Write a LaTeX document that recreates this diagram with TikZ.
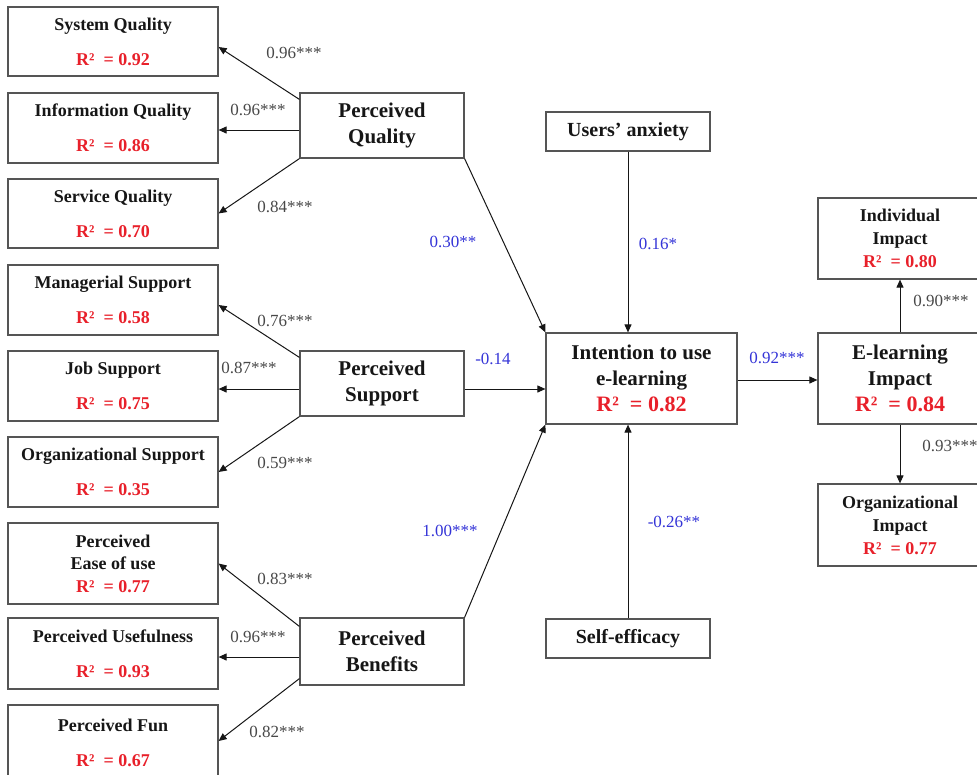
\documentclass[tikz,border=0pt]{standalone}
\usepackage{fontspec}
\setmainfont{Liberation Serif}
\usetikzlibrary{arrows.meta}

\definecolor{rsqred}{RGB}{232,32,42}
\definecolor{coefgray}{RGB}{72,72,72}
\definecolor{pathblue}{RGB}{52,52,215}
\definecolor{framegray}{RGB}{85,85,85}
\definecolor{inkdark}{RGB}{22,22,22}

% red R-squared value
\newcommand\rtwo[1]{{\color{rsqred}R²~~= #1}}

\tikzset{
  box/.style={draw=framegray, line width=1.2pt, rectangle, inner sep=0pt,
              align=center, text=inkdark},
  lbox/.style={box, minimum width=210pt, font=\bfseries\fontsize{18}{35}\selectfont},
  mbox/.style={box, minimum width=164pt, font=\bfseries\fontsize{21}{26.5}\selectfont},
  rbox/.style={box, minimum width=164pt, font=\bfseries\fontsize{18}{23}\selectfont},
  conn/.style={draw=inkdark, line width=1pt, -{Triangle[length=8pt,width=7pt]}},
  coeflbl/.style={text=coefgray, inner sep=0pt, font=\fontsize{17}{17}\selectfont},
  pathlbl/.style={text=pathblue, inner sep=0pt, font=\fontsize{17}{17}\selectfont},
}

\begin{document}
\begin{tikzpicture}[x=1pt,y=-1pt]
\useasboundingbox (0,0) rectangle (977,774);
\clip (0,0) rectangle (977,774);

% indicator boxes on the left
\node[lbox, minimum height=69pt] (sq)  at (113,41.5)  {System Quality\\\rtwo{0.92}};
\node[lbox, minimum height=70pt] (iq)  at (113,128)   {Information Quality\\\rtwo{0.86}};
\node[lbox, minimum height=69pt] (svq) at (113,213.5) {Service Quality\\\rtwo{0.70}};
\node[lbox, minimum height=70pt] (ms)  at (113,300)   {Managerial Support\\\rtwo{0.58}};
\node[lbox, minimum height=70pt] (js)  at (113,386)   {Job Support\\\rtwo{0.75}};
\node[lbox, minimum height=70pt] (os)  at (113,472)   {Organizational Support\\\rtwo{0.35}};
\node[lbox, minimum height=81pt, font=\bfseries\fontsize{18}{22.5}\selectfont]
     (peou) at (113,563.5) {Perceived\\Ease of use\\\rtwo{0.77}};
\node[lbox, minimum height=71pt] (pu)  at (113,653.5) {Perceived Usefulness\\\rtwo{0.93}};
\node[lbox, minimum height=76pt] (fun) at (113,743)   {Perceived Fun\\\rtwo{0.67}};

% second-order constructs
\node[mbox, minimum height=65pt] (pq) at (382,125.5) {Perceived\\Quality};
\node[mbox, minimum height=65pt] (ps) at (382,383.5) {Perceived\\Support};
\node[mbox, minimum height=67pt] (pb) at (382,651.5) {Perceived\\Benefits};

% moderators and intention
\node[box, minimum width=164pt, minimum height=39pt, font=\bfseries\fontsize{20}{24}\selectfont]
     (ua) at (628,131.5) {Users’ anxiety};
\node[box, minimum width=164pt, minimum height=39pt, font=\bfseries\fontsize{20}{24}\selectfont]
     (se) at (628,638.5) {Self-efficacy};
\node[box, minimum width=191pt, minimum height=91pt, font=\bfseries\fontsize{21}{26}\selectfont]
     (int) at (641.5,378.5) {Intention to use\\e-learning\\{\fontsize{22}{26}\selectfont\rtwo{0.82}}};

% impact constructs
\node[rbox, minimum height=81pt] (ii) at (900,238.5) {Individual\\Impact\\\rtwo{0.80}};
\node[box, minimum width=164pt, minimum height=91pt, font=\bfseries\fontsize{21}{26}\selectfont]
     (ei) at (900,378.5) {E-learning\\Impact\\{\fontsize{22}{26}\selectfont\rtwo{0.84}}};
\node[rbox, minimum height=82pt] (oi) at (900,525) {Organizational\\Impact\\\rtwo{0.77}};

% loadings of Perceived Quality
\draw[conn] ([yshift=-7pt]pq.north west) -- ([yshift=-5.5pt]sq.east);
\draw[conn] ([yshift=-4.5pt]pq.west) -- ([yshift=-2pt]iq.east);
\draw[conn] (pq.south west) -- (svq.east);
% loadings of Perceived Support
\draw[conn] ([yshift=-7pt]ps.north west) -- ([yshift=-5pt]ms.east);
\draw[conn] ([yshift=-5.5pt]ps.west) -- ([yshift=-3pt]js.east);
\draw[conn] (ps.south west) -- (os.east);
% loadings of Perceived Benefits
\draw[conn] ([yshift=-9pt]pb.north west) -- (peou.east);
\draw[conn] ([yshift=-5.5pt]pb.west) -- ([yshift=-3.5pt]pu.east);
\draw[conn] ([yshift=7pt]pb.south west) -- ([yshift=2pt]fun.east);

% structural paths
\draw[conn] (pq.south east) -- (int.north west);
\draw[conn] ([yshift=-5.5pt]ps.east) -- ([yshift=-10.5pt]int.west);
\draw[conn] (pb.north east) -- (int.south west);
\draw[conn] (ua.south) -- (ua.south |- int.north);
\draw[conn] (se.north) -- (se.north |- int.south);
\draw[conn] ([yshift=-1.5pt]int.east) -- ([yshift=-1.5pt]ei.west);
\draw[conn] (ei.north) -- (ii.south);
\draw[conn] (ei.south) -- (oi.north);

% loadings
\node[coeflbl] (lsq)   at (294,53)  {0.96***};
\node[coeflbl] (liq)   at (258,110) {0.96***};
\node[coeflbl] (lsvq)  at (285,207) {0.84***};
\node[coeflbl] (lms)   at (285,321) {0.76***};
\node[coeflbl] (ljs)   at (249,368) {0.87***};
\node[coeflbl] (los)   at (285,463) {0.59***};
\node[coeflbl] (lpeou) at (285,579) {0.83***};
\node[coeflbl] (lpu)   at (258,637) {0.96***};
\node[coeflbl] (lfun)  at (277,732) {0.82***};
\node[coeflbl] (lii)   at (941,301) {0.90***};
\node[coeflbl] (loi)   at (950,446) {0.93***};

% path coefficients
\node[pathlbl] (cpq)  at (453,242) {0.30**};
\node[pathlbl] (cps)  at (493,359) {-0.14};
\node[pathlbl] (cpb)  at (450,531) {1.00***};
\node[pathlbl] (cua)  at (658,244) {0.16*};
\node[pathlbl] (cse)  at (674,522) {-0.26**};
\node[pathlbl] (cint) at (777,358) {0.92***};
\end{tikzpicture}
\end{document}
